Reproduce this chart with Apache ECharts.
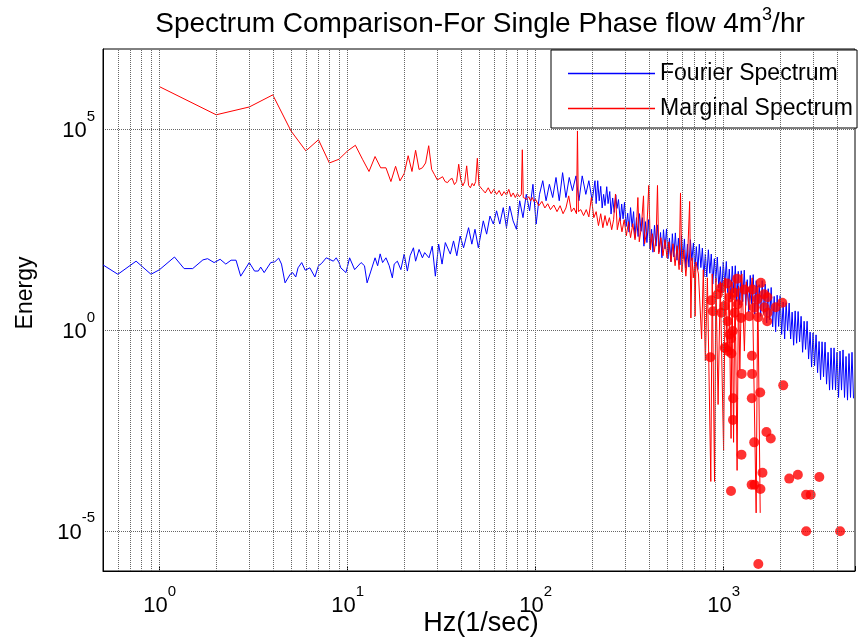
<!DOCTYPE html>
<html><head><meta charset="utf-8">
<script src="https://cdn.jsdelivr.net/npm/echarts@6/dist/echarts.min.js"></script>
<style>html,body{margin:0;padding:0;background:#fff;overflow:hidden}#c{width:858px;height:639px}</style>
</head><body><div id="c"></div>
<script>
// Fourier spectrum [Hz, energy]
const fourierSpectrum = [
[0.5,42],[0.6,24.5],[0.75,52],[0.9,24.5],[1,32],[1.2,66],[1.35,34],[1.5,34],[1.7,56],[1.8,60],
[1.95,48],[2.1,58],[2.25,44],[2.4,55],[2.55,55],[2.7,22],[3,48],[3.2,29.5],[3.35,29.5],[3.45,37],
[3.6,27],[3.9,48],[4.1,50],[4.3,62],[4.45,44],[4.65,15],[4.95,24.5],[5.1,27],[5.3,21],[5.45,35.5],
[5.7,48],[5.95,31],[6.3,35.5],[6.7,21],[7,40],[7.25,45],[7.7,63],[8,58],[8.4,52],[8.7,63],[9,48],
[9.2,35.5],[9.8,27],[10.25,63],[10.9,32],[11.8,48],[12.3,40],[12.7,15],[13.3,29.5],[14,63],[14.45,40],
[14.9,79],[15.35,48],[16,63],[16.65,40],[17.3,20],[17.7,44],[18.4,52],[19.2,32],[20,78],[20.8,29.5],
[21.5,71],[22.4,112],[23,52],[24,102],[25,63],[25.7,85],[27.1,63],[28.2,123],[29.3,22],[30.5,138],
[31.8,44],[33.1,151],[35.2,78],[36.6,166],[38.1,71],[39.7,219],[41.4,112],[44,355],[45.8,138],[47.6,324],
[49.6,112],[52.7,525],[54.9,245],[57.2,692],[59.6,437],[62,933],[64.5,437],[67.3,1120],[70,355],[72.8,1230],
[75.9,525],[79.1,324],[82.3,1660],[85.7,631],[89.2,2400],[92.9,933],[96.8,4270],[100.7,437],[104.9,2400],[109.2,5250],
[113.7,1660],[118.4,4270],[123.3,2000],[128.4,6310],[133.6,1660],[139.2,8320],[145,2000],[151,6310],[157,2950],[164,6920],
[170,1660],[177,6920],[185,2400],[192,5250],[200,1660],[207,5250],
[210,1410],[214,5250],[218,1660],[222,3800],[226,1100],[230,2400],[234,1260],[239,3720],[243,1410],[248,2820],
[252,776],[257,1950],[262,851],[267,2340],[271,1070],[276,1780],[282,513],[287,1380],[292,589],[297,1510],
[303,380],[309,813],[314,275],[320,1120],[326,372],[332,891],[338,200],[344,631],[351,214],[357,794],
[364,288],[370,631],[377,123],[384,501],[391,151],[399,562],[406,107],[414,324],[421,87],[429,407],
[437,123],[445,417],[453,87],[462,269],[470,63],[479,316],[488,105],[497,331],[506,60],[515,195],
[525,50],[534,251],[544,66],[554,263],[565,55],[575,195],[586,42],[597,224],[608,60],[619,186],
[630,35],[642,138],[654,37],[666,178],[678,54],[691,148],[703,29],[716,120],[730,32],[743,138],
[757,36],[771,110],[785,21],[800,79],[814,21],[830,100],[845,26],[860,78],[876,14],[893,60],
[909,16],[926,66],[943,11],[961,38],[978,8.5],[996,50],[1015,13.5],[1034,51],[1053,8.5],[1072,33],
[1092,6],[1112,39],[1133,8.3],[1154,40],[1175,5.2],[1197,29],[1219,4.2],[1241,30],[1264,5.1],[1288,31],
[1312,4.1],[1336,18],[1361,2.8],[1386,23],[1411,4.5],[1437,24],[1464,2.5],[1491,17],[1519,2],[1547,13.5],
[1575,2.2],[1605,17],[1634,2.6],[1664,14],[1695,1.5],[1727,10.7],[1759,1.8],[1791,11.5],[1824,1.2],[1858,6.9],
[1892,0.91],[1927,7.4],[1963,1.23],[1999,7.2],[2036,0.78],[2074,5],[2112,0.6],[2151,4.8],[2191,0.95],[2232,4.7],
[2273,0.6],[2315,2.8],[2358,0.42],[2402,3],[2446,0.47],[2491,2.9],[2537,0.51],[2584,2.2],[2632,0.28],[2681,1.66],
[2730,0.33],[2781,1.66],[2832,0.19],[2885,0.89],[2938,0.12],[2993,0.85],[3048,0.13],[3104,0.76],[3162,0.087],[3220,0.52],
[3280,0.058],[3340,0.51],[3402,0.069],[3465,0.5],[3529,0.045],[3595,0.28],[3661,0.032],[3729,0.36],[3798,0.033],[3868,0.36],
[3940,0.032],[4013,0.28],[4087,0.021],[4162,0.3],[4239,0.032],[4318,0.32],[4398,0.021],[4479,0.22],[4562,0.018],[4646,0.26],
[4732,0.021],[4820,0.28],[4909,0.02]
];
// Marginal spectrum [Hz, energy]
const marginalSpectrum = [
[1,1.15e6],[2,2.3e5],[3,3.6e5],[4,7.2e5],[5,9.1e4],[6,2.9e4],[7,5.5e4],[8,1.45e4],[9,1.8e4],[10,2.9e4],
[11,4.0e4],[12,1.8e4],[13,8.9e3],[14,2.1e4],[15,1.1e4],[16,1.1e4],[17,5.0e3],[18,1.2e4],[19,5.2e3],[20,7.9e3],
[21,2.2e4],[22,8.9e3],[23,3.0e4],[24,1.0e4],[25,1.1e4],[26,1.45e4],[27,3.9e4],[28,1.0e4],[29,7.4e3],[30,5.5e3],
[31,6.0e3],[32,6.6e3],[33,5.0e3],[34,4.7e3],[35,5.6e3],[36,6.0e3],[37,4.2e3],[38,5.0e3],[39,1.35e4],[40,5.6e3],
[41,3.9e3],[42,5.0e3],[43,1.23e4],[44,4.0e3],[45,3.5e3],[46,4.5e3],[47,3.9e3],[48,5.0e3],[49,1.9e4],[50,4.0e3],
[52,3.2e3],[54,2.6e3],[56,3.5e3],[58,2.5e3],[60,3.2e3],[62,2.4e3],[64,3.0e3],[66,2.2e3],[68,2.8e3],[70,2.3e3],
[72,3.2e3],[74,2.1e3],[76,2.6e3],[78,2.0e3],[80,2.5e3],[82,2.1e3],[84,2.4e3],[85,3.1e4],[86,2.0e3],[88,2.2e3],
[90,1.8e3],[92,2.1e3],[94,1.65e3],[96,2.0e3],[98,1.6e3],[100,1.8e3],[104,1.25e3],[108,1.6e3],[112,1.1e3],[116,1.4e3],
[120,1.0e3],[125,1.3e3],[130,890],[135,1.25e3],[140,790],[145,1.1e3],[150,2.2e3],[155,890],[160,1.1e3],[165,790],
[167,9.1e4],[169,890],[174,1.0e3],[180,710],[186,1.0e3],[192,660],[198,2.0e3],[204,630],[210,890],[216,400],
[222,790],[228,355],[234,710],[240,400],[247,630],[254,316],[260,560],[266,2.45e3],[272,316],[280,630],
[288,280],[296,560],[304,224],[312,500],[320,200],[329,447],[338,178],[344,400],[350,2.0e3],[356,158],
[365,355],[375,2.2e3],[380,141],[390,282],[400,4.0e3],[408,100],[418,251],[428,89],[438,224],[445,4.0e3],
[452,79],[464,200],[476,71],[488,178],[500,63],[512,158],[525,50],[538,141],[552,40],[566,126],
[580,32],[590,2.6e3],[600,28],[615,100],[630,22],[645,89],[660,1.6e3],[670,2],[680,63],[690,20],
[700,40],[705,2.2],[712,50],[735,25],[764,0.6],[780,32],[800,0.17],[820,20],[855,1.7e-4],[870,25],
[895,1.7e-4],[910,20],[935,0.014],[960,16],[1000,1e-3],[1020,20],[1045,0.32],[1070,12.6],[1096,2e-3],[1110,16],
[1130,1.6e-3],[1150,20],[1180,3.2e-4],[1200,12.6],[1220,0.1],[1250,25],[1290,0.3],[1320,16],[1370,3.2],[1420,20],
[1490,2.8e-5],[1520,12.6],[1566,2.8e-5]
];
// Isolated marginal spectrum points (drawn as dots)
const marginalDots = [
[1180,19],[1578,15],[1045,14.5],[971,11.2],[1288,10.2],[1426,10.2],[1141,8.5],[932,7.8],[1643,7.8],[1711,6.6],
[1074,6.5],[1515,5.9],[860,5.5],[2052,4.8],[1893,3.7],[1012,4],[1188,4.4],[1455,3.6],[1650,3.7],[877,2.95],
[975,2.7],[1145,2.7],[1715,2.7],[1370,2.2],[1528,2.1],[1238,2.0],[1052,1.66],[1705,1.66],[1119,0.95],[1078,0.78],
[1096,0.62],[1050,0.38],[1015,0.36],[850,0.21],[1055,0.3],[1100,0.26],[1415,0.23],[1247,0.081],[1418,0.081],[2076,0.042],
[1566,0.028],[1124,0.02],[1412,0.02],[1122,0.0058],[1690,0.0029],[1782,0.002],[1455,0.0016],[1245,0.00079],[1610,0.00028],[2234,0.0002],
[2483,0.00025],[3230,0.00022],[1095,9.8e-5],[1410,1.4e-4],[1460,1.4e-4],[1570,1.1e-4],[2746,7.9e-5],[2906,7.9e-5],[2750,9.8e-6],[4168,9.8e-6],
[1530,1.5e-6]
];
const seriesNames = ['Fourier Spectrum', 'Marginal Spectrum'];
const xTickExp = [0, 1, 2, 3];
const yTickExp = [-5, 0, 5];
const xGridValues = [0.6,0.7,0.8,0.9,1,2,3,4,5,6,7,8,9,10,20,30,40,50,60,70,80,90,100,200,300,400,500,600,700,800,900,1000,2000,3000,4000];
const titleMain = 'Spectrum Comparison-For Single Phase flow 4m';
const titleSup = '3';
const titleEnd = '/hr';
const xName = 'Hz(1/sec)';
const yName = 'Energy';

const F = "'Liberation Sans', Arial, Helvetica, sans-serif";
const GRID = '#666';
const NONE = 'rgba(0,0,0,0)';
const chart = echarts.init(document.getElementById('c'), null, {renderer: 'canvas'});

function expLabel(allowed) {
  return function (v) {
    const l = Math.log10(v);
    const e = Math.round(l);
    if (Math.abs(l - e) > 1e-6 || allowed.indexOf(e) < 0) return '';
    return '{b|10}{e|' + e + '}';
  };
}
const labelRich = {
  b: {fontSize: 22, fontFamily: F, color: '#000', lineHeight: 33, verticalAlign: 'bottom'},
  e: {fontSize: 15, fontFamily: F, color: '#000', lineHeight: 14, verticalAlign: 'top'}
};

chart.setOption({
  animation: false,
  backgroundColor: '#fff',
  grid: {left: 103, right: -4, top: 49, bottom: 68, show: true, borderColor: '#000', borderWidth: 1, backgroundColor: 'transparent'},
  legend: {
    data: seriesNames,
    orient: 'vertical', left: 551, top: 50,
    backgroundColor: '#fff', borderColor: '#000', borderWidth: 1, borderRadius: 0,
    padding: [12, 4, 8, 17], itemGap: 12, itemWidth: 87, itemHeight: 1.5,
    icon: 'rect',
    textStyle: {fontSize: 23, fontFamily: F, color: '#000', lineHeight: 22}
  },
  xAxis: {
    type: 'log', logBase: 10, min: 0.5, max: 5000, splitNumber: 4,
    axisLine: {show: true, lineStyle: {color: '#000', width: 1}},
    axisTick: {show: true, inside: true, length: 5, lineStyle: {color: '#000'}},
    splitLine: {show: false}, minorTick: {show: false},
    axisLabel: {formatter: expLabel(xTickExp), rich: labelRich, margin: 13}
  },
  yAxis: {
    type: 'log', logBase: 10, min: 1e-6, max: 1e7, interval: 1,
    axisLine: {show: true, lineStyle: {color: '#000', width: 1}},
    axisTick: {show: false},
    splitLine: {show: true, lineStyle: {color: [NONE, GRID, NONE, NONE, NONE], type: 'dotted', width: 1}},
    axisLabel: {formatter: expLabel(yTickExp), rich: labelRich, margin: 8, padding: [0, 0, 7, 0]}
  },
  graphic: [
    {type: 'text', x: 480, y: 22, z: 10, style: {
      text: '{a|' + titleMain + '}{s|' + titleSup + '}{a|' + titleEnd + '}',
      align: 'center', verticalAlign: 'middle', textAlign: 'center', textVerticalAlign: 'middle',
      rich: {
        a: {fontSize: 28, fontFamily: F, fill: '#000', color: '#000', lineHeight: 32, verticalAlign: 'bottom'},
        s: {fontSize: 18, fontFamily: F, fill: '#000', color: '#000', lineHeight: 16, verticalAlign: 'top'}
      }
    }},
    {type: 'text', x: 481, y: 624, z: 10, style: {text: xName, font: '27px ' + F, fill: '#000',
      align: 'center', verticalAlign: 'middle', textAlign: 'center', textVerticalAlign: 'middle'}},
    {type: 'text', x: 26, y: 293, rotation: Math.PI / 2, z: 10, style: {text: yName, font: '23px ' + F, fill: '#000',
      align: 'center', verticalAlign: 'middle', textAlign: 'center', textVerticalAlign: 'middle'}}
  ],
  series: [
    {
      name: 'grid', type: 'line', data: [[1, 1]], symbol: 'none', lineStyle: {opacity: 0}, z: 1, silent: true,
      markLine: {
        silent: true, symbol: 'none', label: {show: false}, animation: false,
        lineStyle: {color: GRID, type: 'dotted', width: 1},
        data: xGridValues.map(v => ({xAxis: v}))
      }
    },
    {name: seriesNames[0], type: 'line', data: fourierSpectrum, showSymbol: false, symbol: 'none',
      lineStyle: {color: '#0000ff', width: 1}, itemStyle: {color: '#0000ff'}, z: 2},
    {name: seriesNames[1], type: 'line', data: marginalSpectrum, showSymbol: false, symbol: 'none',
      lineStyle: {color: '#ff0000', width: 1}, itemStyle: {color: '#ff0000'}, z: 3},
    {name: 'dots', type: 'scatter', data: marginalDots, symbol: 'circle', symbolSize: 10,
      itemStyle: {color: '#ff0000'}, z: 4}
  ]
});
</script>
</body></html>
